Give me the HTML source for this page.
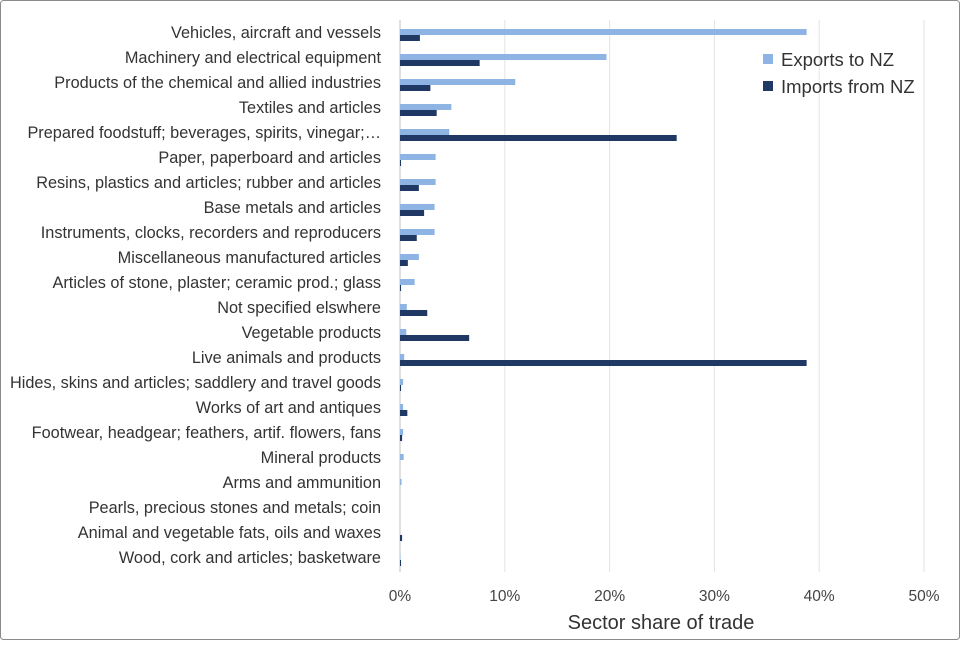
<!DOCTYPE html>
<html><head><meta charset="utf-8"><style>
body{margin:0;background:#fff;}
svg text{font-family:"Liberation Sans",sans-serif;}
</style></head><body>
<svg id="chart" width="960" height="640" xmlns="http://www.w3.org/2000/svg">
<rect x="0.5" y="0.5" width="959" height="639" fill="#fff" stroke="#8a8a8a" rx="3"/>
<g id="grid"></g><g id="bars"></g><g id="labels"></g>
<text x="661" y="629" font-size="20" text-anchor="middle" fill="#333">Sector share of trade</text>
<g>
<rect x="763" y="54" width="10" height="10" fill="#8eb4e3"/>
<text x="781" y="66" font-size="18.5" fill="#333">Exports to NZ</text>
<rect x="763" y="81" width="10" height="10" fill="#1f3864"/>
<text x="781" y="93" font-size="18.5" fill="#333">Imports from NZ</text>
</g>
</svg>
<script>
const categories=["Vehicles, aircraft and vessels","Machinery and electrical equipment","Products of the chemical and allied industries","Textiles and articles","Prepared foodstuff; beverages, spirits, vinegar;…","Paper, paperboard and articles","Resins, plastics and articles; rubber and articles","Base metals and articles","Instruments, clocks, recorders and reproducers","Miscellaneous manufactured articles","Articles of stone, plaster; ceramic prod.; glass","Not specified elswhere","Vegetable products","Live animals and products","Hides, skins and articles; saddlery and travel goods","Works of art and antiques","Footwear, headgear; feathers, artif. flowers, fans","Mineral products","Arms and ammunition","Pearls, precious stones and metals; coin","Animal and vegetable fats, oils and waxes","Wood, cork and articles; basketware"];
const exportsNZ=[38.8,19.7,11.0,4.9,4.7,3.4,3.4,3.3,3.3,1.8,1.4,0.65,0.6,0.4,0.3,0.3,0.3,0.35,0.15,0,0,0.05];
const importsNZ=[1.9,7.6,2.9,3.5,26.4,0.1,1.8,2.3,1.6,0.75,0.1,2.6,6.6,38.8,0.1,0.7,0.2,0,0,0,0.2,0.1];
const tickValues=[0,10,20,30,40,50];
const tickLabels=["0%","10%","20%","30%","40%","50%"];
const NS="http://www.w3.org/2000/svg";
const x=v=>400+v*10.48;
const yc=i=>35+i*25;
function mk(tag,attrs,parent){const e=document.createElementNS(NS,tag);for(const k in attrs)e.setAttribute(k,attrs[k]);parent.appendChild(e);return e;}
const grid=document.getElementById('grid'),bars=document.getElementById('bars'),labels=document.getElementById('labels');
tickValues.forEach((t,i)=>{
  const l=mk('line',{x1:x(t),x2:x(t),y1:20,y2:572,stroke:i==0?'#bfbfbf':'#e3e3e3','stroke-width':1},grid);
  
  
  const tx=mk('text',{x:x(t),y:601,'font-size':15.5,'text-anchor':'middle',fill:'#444'},grid);
  tx.textContent=tickLabels[i];
  
  
});
categories.forEach((c,i)=>{
  const t=mk('text',{x:381,y:yc(i)+3,'font-size':16.3,'text-anchor':'end',fill:'#333'},labels);
  t.textContent=c;
  
  
  const be=mk('rect',{x:x(0),y:yc(i)-6,width:Math.max(0,x(exportsNZ[i])-x(0)),height:6,fill:'#8eb4e3'},bars);
  
  
  const bi=mk('rect',{x:x(0),y:yc(i),width:Math.max(0,x(importsNZ[i])-x(0)),height:6,fill:'#1f3864'},bars);
  
  
});
</script>
</body></html>
